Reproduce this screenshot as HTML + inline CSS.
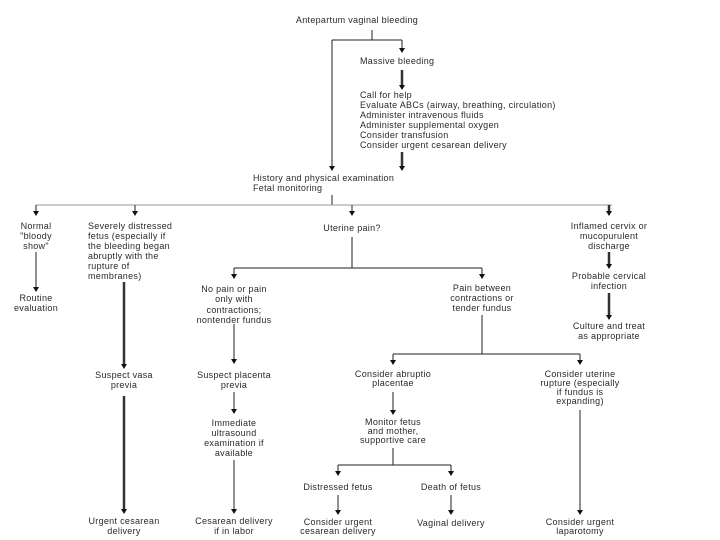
<!DOCTYPE html>
<html><head><meta charset="utf-8"><style>
html,body{margin:0;padding:0;background:#fff;}
svg{display:block;}
text{font-family:"Liberation Sans",sans-serif;font-size:9px;fill:#2a2a2a;letter-spacing:0.3px;}
.c{text-anchor:middle;}
line{stroke:#222;stroke-width:1;}
.t{stroke-width:2.5;stroke:#333;}
</style></head><body>
<svg width="720" height="540" viewBox="0 0 720 540" xmlns="http://www.w3.org/2000/svg">
<defs><marker id="a" markerWidth="6" markerHeight="6" refX="3" refY="5" orient="auto" markerUnits="userSpaceOnUse"><path d="M0,1 L6,1 L3,6 Z" fill="#111" transform="rotate(-90 3 3)"/></marker></defs>
<g id="arrows"></g>
<text class="c" x="357" y="23">Antepartum vaginal bleeding</text>
<line x1="372" y1="30" x2="372" y2="40"/>
<line x1="332" y1="40" x2="402" y2="40"/>
<line x1="402" y1="40" x2="402" y2="50"/><path d="M399,48 L405,48 L402,53 Z" fill="#111"/>
<line x1="332" y1="40" x2="332" y2="168"/><path d="M329,166 L335,166 L332,171 Z" fill="#111"/>
<text x="360" y="64">Massive bleeding</text>
<line class="t" x1="402" y1="70" x2="402" y2="86"/><path d="M399,85 L405,85 L402,90 Z" fill="#111"/>
<text x="360" y="98">Call for help</text>
<text x="360" y="108">Evaluate ABCs (airway, breathing, circulation)</text>
<text x="360" y="118">Administer intravenous fluids</text>
<text x="360" y="128">Administer supplemental oxygen</text>
<text x="360" y="138">Consider transfusion</text>
<text x="360" y="148">Consider urgent cesarean delivery</text>
<line class="t" x1="402" y1="152" x2="402" y2="167"/><path d="M399,166 L405,166 L402,171 Z" fill="#111"/>
<text x="253" y="181">History and physical examination</text>
<text x="253" y="191">Fetal monitoring</text>
<line x1="332" y1="195" x2="332" y2="205"/>
<line x1="36" y1="205" x2="612" y2="205" style="stroke:#999"/>
<line x1="36" y1="205" x2="36" y2="212"/><path d="M33,211 L39,211 L36,216 Z" fill="#111"/>
<line x1="135" y1="205" x2="135" y2="212"/><path d="M132,211 L138,211 L135,216 Z" fill="#111"/>
<line x1="352" y1="205" x2="352" y2="212"/><path d="M349,211 L355,211 L352,216 Z" fill="#111"/>
<line class="t" x1="609" y1="205" x2="609" y2="213"/><path d="M606,211 L612,211 L609,216 Z" fill="#111"/>
<text class="c" x="36" y="229">Normal</text><text class="c" x="36" y="239">"bloody</text><text class="c" x="36" y="249">show"</text>
<text x="88" y="229">Severely distressed</text><text x="88" y="239">fetus (especially if</text><text x="88" y="249">the bleeding began</text><text x="88" y="259">abruptly with the</text><text x="88" y="269">rupture of</text><text x="88" y="279">membranes)</text>
<text class="c" x="352" y="231">Uterine pain?</text>
<text class="c" x="609" y="229">Inflamed cervix or</text><text class="c" x="609" y="239">mucopurulent</text><text class="c" x="609" y="249">discharge</text>
<line x1="36" y1="252" x2="36" y2="288"/><path d="M33,287 L39,287 L36,292 Z" fill="#111"/>
<text class="c" x="36" y="301">Routine</text><text class="c" x="36" y="311">evaluation</text>
<line class="t" x1="124" y1="282" x2="124" y2="365"/><path d="M121,364 L127,364 L124,369 Z" fill="#111"/>
<text class="c" x="124" y="378">Suspect vasa</text><text class="c" x="124" y="388">previa</text>
<line class="t" x1="124" y1="396" x2="124" y2="510"/><path d="M121,509 L127,509 L124,514 Z" fill="#111"/>
<text class="c" x="124" y="524">Urgent cesarean</text><text class="c" x="124" y="534">delivery</text>
<line x1="352" y1="237" x2="352" y2="268"/>
<line x1="234" y1="268" x2="482" y2="268"/>
<line x1="234" y1="268" x2="234" y2="275"/><path d="M231,274 L237,274 L234,279 Z" fill="#111"/>
<line x1="482" y1="268" x2="482" y2="275"/><path d="M479,274 L485,274 L482,279 Z" fill="#111"/>
<text class="c" x="234" y="292">No pain or pain</text><text class="c" x="234" y="302">only with</text><text class="c" x="234" y="313">contractions;</text><text class="c" x="234" y="323">nontender fundus</text>
<text class="c" x="482" y="291">Pain between</text><text class="c" x="482" y="301">contractions or</text><text class="c" x="482" y="311">tender fundus</text>
<line x1="234" y1="324" x2="234" y2="360"/><path d="M231,359 L237,359 L234,364 Z" fill="#111"/>
<text class="c" x="234" y="378">Suspect placenta</text><text class="c" x="234" y="388">previa</text>
<line x1="234" y1="392" x2="234" y2="410"/><path d="M231,409 L237,409 L234,414 Z" fill="#111"/>
<text class="c" x="234" y="426">Immediate</text><text class="c" x="234" y="436">ultrasound</text><text class="c" x="234" y="446">examination if</text><text class="c" x="234" y="456">available</text>
<line x1="234" y1="460" x2="234" y2="510"/><path d="M231,509 L237,509 L234,514 Z" fill="#111"/>
<text class="c" x="234" y="524">Cesarean delivery</text><text class="c" x="234" y="534">if in labor</text>
<line class="t" x1="609" y1="252" x2="609" y2="265"/><path d="M606,264 L612,264 L609,269 Z" fill="#111"/>
<text class="c" x="609" y="279">Probable cervical</text><text class="c" x="609" y="289">infection</text>
<line class="t" x1="609" y1="293" x2="609" y2="316"/><path d="M606,315 L612,315 L609,320 Z" fill="#111"/>
<text class="c" x="609" y="329">Culture and treat</text><text class="c" x="609" y="339">as appropriate</text>
<line x1="482" y1="315" x2="482" y2="354"/>
<line x1="393" y1="354" x2="580" y2="354"/>
<line x1="393" y1="354" x2="393" y2="361"/><path d="M390,360 L396,360 L393,365 Z" fill="#111"/>
<line x1="580" y1="354" x2="580" y2="361"/><path d="M577,360 L583,360 L580,365 Z" fill="#111"/>
<text class="c" x="393" y="377">Consider abruptio</text><text class="c" x="393" y="386">placentae</text>
<text class="c" x="580" y="377">Consider uterine</text><text class="c" x="580" y="386">rupture (especially</text><text class="c" x="580" y="395">if fundus is</text><text class="c" x="580" y="404">expanding)</text>
<line x1="393" y1="392" x2="393" y2="411"/><path d="M390,410 L396,410 L393,415 Z" fill="#111"/>
<text class="c" x="393" y="425">Monitor fetus</text><text class="c" x="393" y="434">and mother,</text><text class="c" x="393" y="443">supportive care</text>
<line x1="393" y1="448" x2="393" y2="465"/>
<line x1="338" y1="465" x2="451" y2="465"/>
<line x1="338" y1="465" x2="338" y2="472"/><path d="M335,471 L341,471 L338,476 Z" fill="#111"/>
<line x1="451" y1="465" x2="451" y2="472"/><path d="M448,471 L454,471 L451,476 Z" fill="#111"/>
<text class="c" x="338" y="490">Distressed fetus</text><text class="c" x="451" y="490">Death of fetus</text>
<line x1="338" y1="495" x2="338" y2="511"/><path d="M335,510 L341,510 L338,515 Z" fill="#111"/>
<line x1="451" y1="495" x2="451" y2="511"/><path d="M448,510 L454,510 L451,515 Z" fill="#111"/>
<text class="c" x="338" y="525">Consider urgent</text><text class="c" x="338" y="534">cesarean delivery</text>
<text class="c" x="451" y="526">Vaginal delivery</text>
<line x1="580" y1="410" x2="580" y2="511"/><path d="M577,510 L583,510 L580,515 Z" fill="#111"/>
<text class="c" x="580" y="525">Consider urgent</text><text class="c" x="580" y="534">laparotomy</text>
</svg>
</body></html>
